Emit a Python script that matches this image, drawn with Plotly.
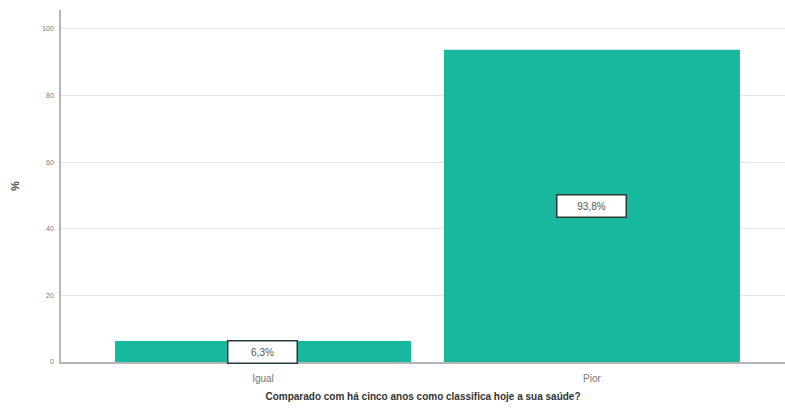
import plotly.graph_objects as go

# Frequência (%) por categoria de resposta
categorias = ["Igual", "Pior"]
percentagens = [6.3, 93.8]
rotulos = ["6,3%", "93,8%"]
ticks_y = [0, 20, 40, 60, 80, 100]

cor_barra = "#17b89d"

fig = go.Figure()
fig.add_trace(go.Bar(
    x=categorias,
    y=percentagens,
    marker=dict(color=cor_barra, line=dict(width=0)),
    width=0.9,
    hoverinfo="x+y",
))

# Caixas com o valor de cada barra, a meio da altura
for cat, val, txt in zip(categorias, percentagens, rotulos):
    fig.add_annotation(
        x=cat, y=val / 2, text=txt, showarrow=False,
        font=dict(family="Arial, Liberation Sans, sans-serif", size=10, color="#555555"),
        bgcolor="white", bordercolor="#2b3a36", borderwidth=1.5,
        width=66, height=19, borderpad=1,
    )

fig.update_layout(
    width=785, height=410,
    margin=dict(l=61, r=0, t=10, b=48),
    paper_bgcolor="white", plot_bgcolor="white",
    showlegend=False,
    bargap=0.1,
    font=dict(family="Arial, Liberation Sans, sans-serif"),
)
fig.update_xaxes(
    range=[-0.614, 1.587],
    showline=True, linecolor="#b5b5b5", linewidth=1.5,
    showgrid=False, ticks="",
    ticklabelstandoff=6,
    tickfont=dict(size=10, color="#777777"),
    title=dict(text="<b>Comparado com há cinco anos como classifica hoje a sua saúde?</b>",
               font=dict(size=10, color="#333333"), standoff=10),
)
fig.update_yaxes(
    range=[0, 105.7],
    tickvals=ticks_y, ticktext=[str(t) for t in ticks_y],
    showline=True, linecolor="#b5b5b5", linewidth=1.5,
    showgrid=True, gridcolor="#e6e6e6", gridwidth=1,
    zeroline=False, ticks="",
    ticklabelstandoff=4,
    tickfont=dict(size=7, color="#777777"),
    title=dict(text="<b>%</b>", font=dict(size=11, color="#444444"), standoff=20),
)

fig.write_html("out.html")
